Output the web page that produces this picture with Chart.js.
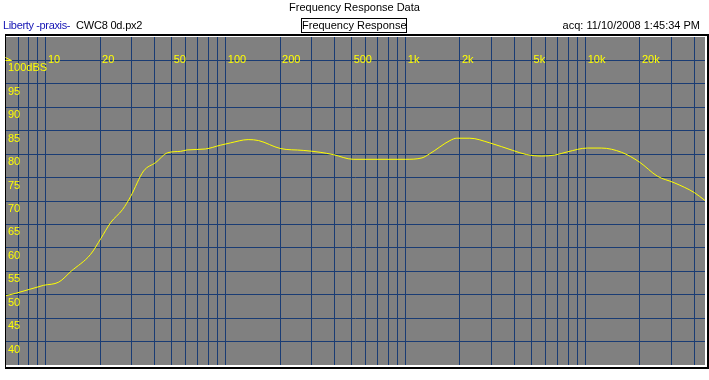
<!DOCTYPE html>
<html>
<head>
<meta charset="utf-8">
<script src="https://cdn.jsdelivr.net/npm/chart.js@4.4.1/dist/chart.umd.min.js"></script>
<style>
  body { margin: 0; background: #fff; font-family: 'Liberation Sans', Arial, sans-serif; font-size: 11px; }
  #wrap { position: relative; width: 709px; height: 380px; }
  #chart { position: absolute; left: 0; top: 0; }
  .t { position: absolute; white-space: nowrap; line-height: 13px; color: #000; }
  #title { left: 0; width: 709px; top: 1px; text-align: center; }
  #src { left: 3px; top: 19px; color: #1414b4; letter-spacing: -0.35px; }
  #file { left: 76px; top: 19px; letter-spacing: -0.2px; }
  #box { left: 301px; top: 18px; width: 104px; height: 13px; border: 1px solid #000; text-align: center; }
  #acq { right: 9px; top: 19px; }
</style>
</head>
<body>
<div id="wrap">
  <canvas id="chart" width="709" height="380"></canvas>
  <div class="t" id="title">Frequency Response Data</div>
  <div class="t" id="src">Liberty -praxis-</div>
  <div class="t" id="file">CWC8 0d.px2</div>
  <div class="t" id="box">Frequency Response</div>
  <div class="t" id="acq">acq: 11/10/2008 1:45:34 PM</div>
</div>
<script>
const freqHz = [6, 6.8, 9.7, 11.8, 13.8, 17.7, 20.2, 22.9, 26.7, 29.6, 34.9, 40.7, 47.5, 56, 61, 77, 93, 106, 133, 152,
                201, 269, 334, 395, 510, 1000, 1230, 1360, 1760, 1920, 2270, 2930, 3930, 4700, 5690, 6720, 7930,
                10200, 12200, 15800, 19900, 25000, 31000, 40100, 46000];
const levelDb = [49.8, 50.3, 52.0, 52.7, 55.0, 58.6, 62.0, 65.4, 68.2, 71.0, 76.4, 78.2, 80.3, 80.6, 80.9, 81.1, 81.9, 82.4, 83.1, 82.9,
                 81.2, 80.8, 80.4, 79.9, 78.9, 78.9, 79.2, 80.1, 82.9, 83.4, 83.4, 82.4, 80.8, 79.9, 79.6, 79.8, 80.5,
                 81.3, 81.3, 80.4, 78.3, 75.3, 73.9, 71.8, 70.1];

// axes
const xMin = 6, xMax = 46000;
const yMin = 35, yMax = 105;
const gridFreqs = [7, 8, 9];
[10, 100, 1000, 10000].forEach(d => { for (let m = 1; m <= 9; m++) if (d * m <= 40000) gridFreqs.push(d * m); });
const xLabelFreqs = [10, 20, 50, 100, 200, 500, 1000, 2000, 5000, 10000, 20000];
const xLabels = ['10', '20', '50', '100', '200', '500', '1k', '2k', '5k', '10k', '20k'];
const yTicks = [40, 45, 50, 55, 60, 65, 70, 75, 80, 85, 90, 95, 100];
const yLabels = ['40', '45', '50', '55', '60', '65', '70', '75', '80', '85', '90', '95', '100dBS'];

const gridBlue = '#1a3c74';
const yellow = '#ffff00';
const fontFam = "'Liberation Sans', Arial, sans-serif";

const frame = {
  id: 'frame',
  beforeDraw: (chart) => {
    const ctx = chart.ctx, ca = chart.chartArea;
    ctx.save();
    ctx.fillStyle = '#808080';
    ctx.fillRect(ca.left, ca.top, ca.right - ca.left, ca.bottom - ca.top);
    ctx.restore();
  },
  afterDraw: (chart) => {
    const ctx = chart.ctx, ca = chart.chartArea;
    ctx.save();
    ctx.fillStyle = '#000';
    ctx.fillRect(ca.left - 1, ca.top - 3, ca.right - ca.left + 5, 2);
    ctx.fillRect(ca.left - 1, ca.top - 3, 1, ca.bottom - ca.top + 6);
    ctx.fillRect(ca.left - 1, ca.bottom + 2, ca.right - ca.left + 5, 2);
    ctx.fillRect(ca.right + 2, ca.top - 3, 2, ca.bottom - ca.top + 7);
    // little marker at the top of the level axis
    ctx.strokeStyle = yellow;
    ctx.lineWidth = 1;
    ctx.beginPath();
    ctx.moveTo(5.5, 57.5); ctx.lineTo(11.5, 60.5); ctx.lineTo(5.5, 60.5);
    ctx.stroke();
    ctx.restore();
  }
};

new Chart(document.getElementById('chart').getContext('2d'), {
  type: 'line',
  data: {
    datasets: [{
      data: freqHz.map((f, i) => ({ x: f, y: levelDb[i] })),
      borderColor: yellow,
      borderWidth: 1,
      pointRadius: 0,
      cubicInterpolationMode: 'monotone',
      fill: false
    }]
  },
  options: {
    responsive: false,
    animation: false,
    layout: { padding: { left: 2, top: 37, right: 4, bottom: 15 } },
    plugins: { legend: { display: false }, tooltip: { enabled: false } },
    scales: {
      x: {
        type: 'logarithmic',
        position: 'top',
        min: xMin,
        max: xMax,
        afterBuildTicks: s => { s.ticks = gridFreqs.map(v => ({ value: v })); },
        afterFit: s => { s.paddingLeft = 0; s.paddingRight = 0; s.height = 0; },
        grid: { color: gridBlue, lineWidth: 1, drawTicks: false },
        border: { display: false },
        ticks: {
          mirror: true, padding: 0, align: 'start', labelOffset: 2,
          autoSkip: false, maxRotation: 0, minRotation: 0,
          color: yellow,
          font: { family: fontFam, size: 11, lineHeight: '46px' },
          callback: v => { const i = xLabelFreqs.indexOf(v); return i < 0 ? '' : xLabels[i]; }
        }
      },
      y: {
        min: yMin,
        max: yMax,
        afterBuildTicks: s => { s.ticks = yTicks.map(v => ({ value: v })); },
        afterFit: s => { s.paddingTop = 0; s.paddingBottom = 0; },
        grid: { color: gridBlue, lineWidth: 1, drawTicks: false },
        border: { display: false },
        ticks: {
          mirror: true, padding: 2, labelOffset: 8,
          color: yellow,
          font: { family: fontFam, size: 11 },
          callback: v => { const i = yTicks.indexOf(v); return i < 0 ? '' : yLabels[i]; }
        }
      }
    }
  },
  plugins: [frame]
});
</script>
</body>
</html>
